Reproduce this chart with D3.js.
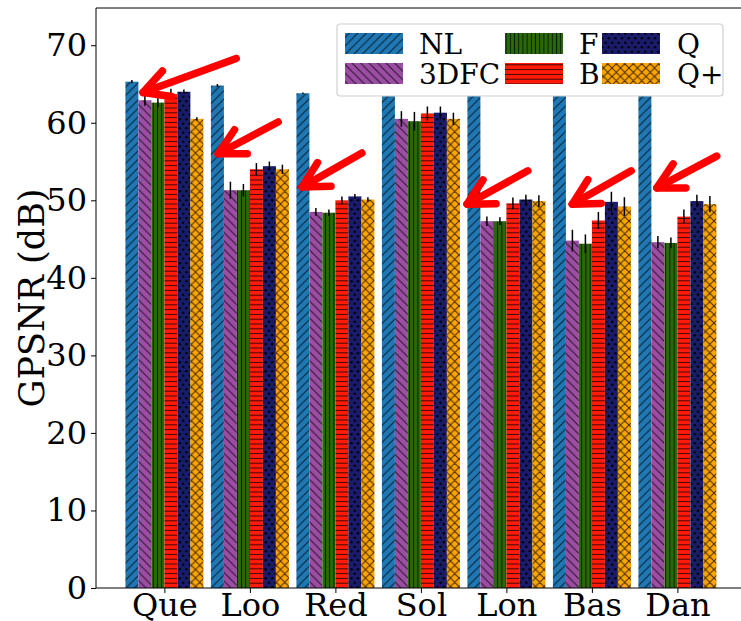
<!DOCTYPE html>
<html>
<head>
<meta charset="utf-8">
<title>GPSNR bars</title>
<script src="https://d3js.org/d3.v7.min.js"></script>
<style>
  body { margin: 0; background: #fff; }
  text { font-family: "DejaVu Serif", serif; fill: #000; }
</style>
</head>
<body>
<svg id="chart" width="741" height="621"></svg>
<script>
// data
var categories = ["Que", "Loo", "Red", "Sol", "Lon", "Bas", "Dan"];
var methods = ["NL", "3DFC", "F", "B", "Q", "Q+"];
var yTicks = [0, 10, 20, 30, 40, 50, 60, 70];

// NL bars for Sol..Dan are hidden behind the legend, values are guesses above it
var nlMean  = [65.3, 64.8, 63.8, 71.0, 68.5, 67.5, 67.0];
var nlErr   = [0.2, 0.2, 0.1, 0.2, 0.2, 0.2, 0.2];
var dfcMean = [62.9, 51.3, 48.5, 60.5, 47.3, 44.8, 44.6];
var dfcErr  = [0.7, 1.1, 0.5, 1.0, 0.6, 1.4, 0.8];
var fMean   = [62.6, 51.3, 48.4, 60.2, 47.3, 44.4, 44.5];
var fErr    = [0.6, 0.8, 0.4, 1.2, 0.5, 1.2, 0.7];
var bMean   = [63.7, 54.0, 50.0, 61.2, 49.6, 47.4, 47.9];
var bErr    = [0.7, 0.8, 0.5, 0.9, 0.75, 1.1, 0.9];
var qMean   = [64.0, 54.4, 50.5, 61.3, 50.1, 49.8, 49.9];
var qErr    = [0.3, 0.6, 0.3, 0.8, 0.6, 1.3, 0.8];
var qpMean  = [60.5, 54.0, 50.1, 60.5, 49.9, 49.2, 49.5];
var qpErr   = [0.2, 0.6, 0.3, 0.8, 0.75, 1.2, 1.05];

// red annotation arrows, [category position, dB]
var arrowTips  = [[-0.25, 63.9], [0.63, 56.0], [1.61, 51.7], [3.54, 49.5], [4.77, 49.5], [5.76, 51.6]];
var arrowTails = [[0.84, 68.3], [1.33, 60.1], [2.31, 56.1], [4.25, 53.8], [5.46, 53.8], [6.46, 55.7]];

var means = [nlMean, dfcMean, fMean, bMean, qMean, qpMean];
var errs = [nlErr, dfcErr, fErr, bErr, qErr, qpErr];
var colors = ["#1f77b4", "#9c4ea4", "#2a6a08", "#ff1a0a", "#1b1b6b", "#ffa500"];

var svg = d3.select("#chart");
var plotLeft = 96, plotTop = 8, plotBottom = 588;
var barW = 0.152;

var xs = d3.scaleLinear().domain([-0.8, 6.8]).range([plotLeft, 745.8]);
var ys = d3.scaleLinear().domain([0, 74.8]).range([plotBottom, plotTop]);
var bw = xs(barW) - xs(0);

// hatch patterns
var defs = svg.append("defs");
function pat(id, w, h, color) {
  var p = defs.append("pattern").attr("id", id)
    .attr("patternUnits", "userSpaceOnUse").attr("width", w).attr("height", h);
  p.append("rect").attr("width", w).attr("height", h).attr("fill", color);
  return p;
}
var hs = "rgba(0,0,0,0.75)";
var s = 8.5;
pat("h0", s, s, colors[0]).append("path")
  .attr("d", "M-1,1 l2,-2 M0," + s + " l" + s + ",-" + s + " M" + (s - 1) + "," + (s + 1) + " l2,-2")
  .attr("stroke", hs).attr("stroke-width", 1);
pat("h1", s, s, colors[1]).append("path")
  .attr("d", "M-1," + (s - 1) + " l2,2 M0,0 l" + s + "," + s + " M" + (s - 1) + ",-1 l2,2")
  .attr("stroke", hs).attr("stroke-width", 1);
pat("h2", 4.2, 10, colors[2]).append("path")
  .attr("d", "M2.1,0 v10").attr("stroke", hs).attr("stroke-width", 1);
pat("h3", 10, 4.8, colors[3]).append("path")
  .attr("d", "M0,2.4 h10").attr("stroke", hs).attr("stroke-width", 1);
var pq = pat("h4", 6.6, 9, colors[4]);
pq.append("circle").attr("cx", 1.65).attr("cy", 2.25).attr("r", 1.2).attr("fill", "#000");
pq.append("circle").attr("cx", 4.95).attr("cy", 6.75).attr("r", 1.2).attr("fill", "#000");
pat("h5", s, s, colors[5]).append("path")
  .attr("d", "M-1,1 l2,-2 M0," + s + " l" + s + ",-" + s + " M" + (s - 1) + "," + (s + 1) + " l2,-2" +
             " M-1," + (s - 1) + " l2,2 M0,0 l" + s + "," + s + " M" + (s - 1) + ",-1 l2,2")
  .attr("stroke", hs).attr("stroke-width", 1);

// bars
methods.forEach(function (m, j) {
  var g = svg.append("g");
  var rows = categories.map(function (c, i) { return { i: i, v: means[j][i], e: errs[j][i] }; });
  g.selectAll("rect").data(rows).enter().append("rect")
    .attr("x", function (d) { return xs(d.i + (j - 2.5) * barW) - bw / 2; })
    .attr("y", function (d) { return ys(d.v); })
    .attr("width", bw)
    .attr("height", function (d) { return ys(0) - ys(d.v); })
    .attr("fill", "url(#h" + j + ")");
  g.selectAll("line").data(rows).enter().append("line")
    .attr("x1", function (d) { return xs(d.i + (j - 2.5) * barW); })
    .attr("x2", function (d) { return xs(d.i + (j - 2.5) * barW); })
    .attr("y1", function (d) { return ys(d.v - d.e); })
    .attr("y2", function (d) { return ys(d.v + d.e); })
    .attr("stroke", "#000").attr("stroke-width", 1.5);
});

// arrows
var ag = svg.append("g").attr("fill", "none").attr("stroke", "#ff0000")
  .attr("stroke-width", 7.5).attr("stroke-linecap", "round").attr("stroke-linejoin", "round");
arrowTips.forEach(function (t, k) {
  var tx = xs(t[0]), ty = ys(t[1]);
  var ex = xs(arrowTails[k][0]), ey = ys(arrowTails[k][1]);
  var ang = Math.atan2(ey - ty, ex - tx), hl = 29, ha = 28 * Math.PI / 180;
  var w1 = [tx + hl * Math.cos(ang - ha), ty + hl * Math.sin(ang - ha)];
  var w2 = [tx + hl * Math.cos(ang + ha), ty + hl * Math.sin(ang + ha)];
  ag.append("path").attr("d", "M" + ex + "," + ey + " L" + tx + "," + ty);
  ag.append("path").attr("d", "M" + w1 + " L" + tx + "," + ty + " L" + w2);
});

// axes
var yAxis = d3.axisLeft(ys).tickValues(yTicks).tickSize(5).tickPadding(4);
var ya = svg.append("g").attr("transform", "translate(" + plotLeft + ",0)").call(yAxis);
ya.select(".domain").remove();
ya.selectAll("text").style("font-family", "DejaVu Serif").style("font-size", "32px");

var xAxis = d3.axisBottom(xs).tickValues(d3.range(categories.length))
  .tickFormat(function (i) { return categories[i]; }).tickSize(5).tickPadding(0);
var xa = svg.append("g").attr("transform", "translate(0," + plotBottom + ")").call(xAxis);
xa.select(".domain").remove();
xa.selectAll("text").style("font-family", "DejaVu Serif").style("font-size", "32px");

svg.append("line").attr("x1", plotLeft).attr("x2", plotLeft).attr("y1", plotTop).attr("y2", plotBottom).attr("stroke", "#000");
svg.append("line").attr("x1", plotLeft).attr("x2", 741).attr("y1", plotBottom).attr("y2", plotBottom).attr("stroke", "#000");
svg.append("line").attr("x1", plotLeft).attr("x2", 741).attr("y1", plotTop).attr("y2", plotTop).attr("stroke", "#000");

svg.append("text").attr("transform", "translate(44," + (plotTop + plotBottom) / 2 + ") rotate(-90)")
  .attr("text-anchor", "middle").style("font-size", "35px").text("GPSNR (dB)");

// legend
var lg = svg.append("g");
lg.append("rect").attr("x", 337).attr("y", 24).attr("width", 386).attr("height", 72)
  .attr("rx", 3).attr("fill", "#fff").attr("stroke", "#d0d0d0").attr("stroke-width", 1.2);
var colHandle = [345, 505, 602], colText = [419, 579, 677], rowY = [33, 63];
methods.forEach(function (m, j) {
  var c = Math.floor(j / 2), r = j % 2;
  lg.append("rect").attr("x", colHandle[c]).attr("y", rowY[r]).attr("width", 58).attr("height", 21)
    .attr("fill", "url(#h" + j + ")");
  lg.append("text").attr("x", colText[c]).attr("y", rowY[r] + 20.5).style("font-size", "28px").text(m);
});
</script>
</body>
</html>
